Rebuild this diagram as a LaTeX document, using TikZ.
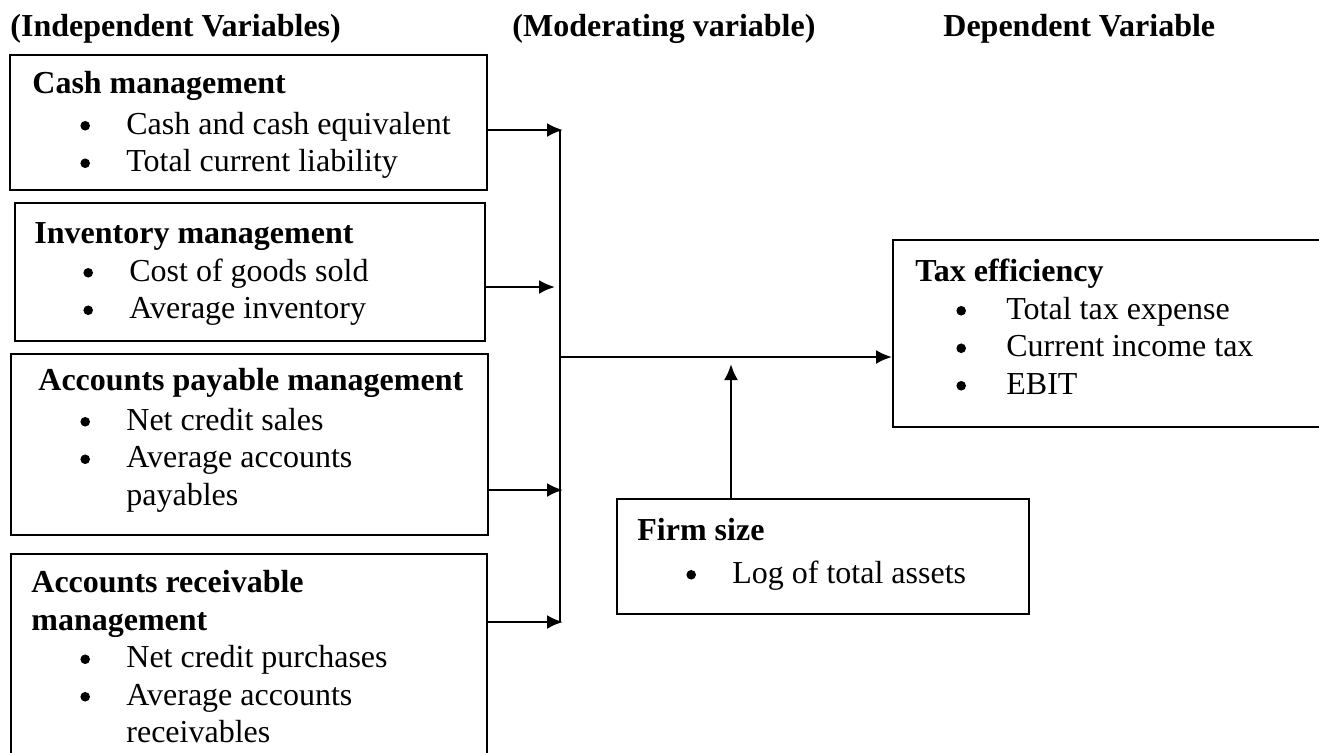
\documentclass[tikz,border=0pt]{standalone}
\usepackage{fontspec}
\setmainfont{Liberation Serif}
\usetikzlibrary{positioning}
\usetikzlibrary{arrows.meta}

\newcommand{\dotb}{\tikz[baseline=-4.2pt]\fill (0,0) circle (2.4pt);}
\newcommand{\itm}[2][23pt]{\hspace*{#2}\makebox[#1][l]{\dotb}}
\newcommand{\hd}[1]{\strut\textbf{#1}}

\begin{document}
\begin{tikzpicture}[
    x=0.5pt, y=-0.5pt,
    varbox/.style={rectangle, draw, line width=1pt, anchor=north west, inner sep=0pt},
    vartext/.style={anchor=north west, align=left, inner sep=0pt, font=\fontsize{16}{18.75}\selectfont},
    header/.style={anchor=base west, inner sep=0pt, font=\fontsize{16}{18}\selectfont\bfseries},
    link/.style={->, line width=1.2pt},
    >={Latex[length=8pt,width=7pt]}
]
    \useasboundingbox (0,0) rectangle (1319,752);
    \clip (0,0) rectangle (1319,752);

    % column headers
    \node[header] (hind) at (10,36) {(Independent Variables)};
    \node[header] (hmod) at (512,36) {(Moderating variable)};
    \node[header] (hdep) at (943,36) {Dependent Variable};

    % independent variables
    \node[varbox, minimum width=238.5pt, minimum height=67.5pt] (cash) at (9,54) {};
    \node[vartext] (cashtxt) at (32,67) {\hd{Cash management}\\[1.5pt]
        \itm{24pt}Cash and cash equivalent\\
        \itm{24pt}Total current liability};

    \node[varbox, minimum width=235pt, minimum height=69pt] (inv) at (14,202) {};
    \node[vartext] (invtxt) at (34,217) {\hd{Inventory management}\\
        \itm{24.5pt}Cost of goods sold\\
        \itm{24.5pt}Average inventory};

    \node[varbox, minimum width=238.5pt, minimum height=90.5pt] (pay) at (10,353) {};
    \node[vartext] (paytxt) at (38,364) {\hd{Accounts payable management}\\[1pt]
        \itm{21pt}Net credit sales\\
        \itm{21pt}Average accounts\\
        \hspace*{44pt}payables};

    \node[varbox, minimum width=238pt, minimum height=110pt] (rec) at (10,553) {};
    \node[vartext] (rectxt) at (31,566) {\hd{Accounts receivable}\\
        \textbf{management}\\
        \itm{24.5pt}Net credit purchases\\
        \itm{24.5pt}Average accounts\\
        \hspace*{47.5pt}receivables};

    % dependent variable
    \node[varbox, minimum width=225pt, minimum height=93.5pt] (tax) at (892,239) {};
    \node[vartext] (taxtxt) at (915,255) {\hd{Tax efficiency}\\
        \itm[25pt]{20.5pt}Total tax expense\\
        \itm[25pt]{20.5pt}Current income tax\\
        \itm[25pt]{20.5pt}EBIT};

    % moderating variable
    \node[varbox, minimum width=206pt, minimum height=57.5pt] (firm) at (616,498) {};
    \node[vartext] (firmtxt) at (637,514) {\hd{Firm size}\\[2.5pt]
        \itm{24.5pt}Log of total assets};

    % bus and arrows
    \coordinate (b1) at (563,130);
    \coordinate (b2) at (555,287);
    \coordinate (b3) at (563,490);
    \coordinate (b4) at (563,622);
    \coordinate (bmid) at (560,357);
    \coordinate (fm) at (731,364);

    \draw[line width=0.6pt] (560,130) -- (560,622);
    \draw[link] (cash.east |- b1) -- (b1);
    \draw[link] (inv.east |- b2) -- (b2);
    \draw[link] (pay.east |- b3) -- (b3);
    \draw[link] (rec.east |- b4) -- (b4);
    \draw[link] (bmid) -- (tax.west |- bmid);
    \draw[link] (firm.north -| fm) -- (fm);
\end{tikzpicture}
\end{document}
